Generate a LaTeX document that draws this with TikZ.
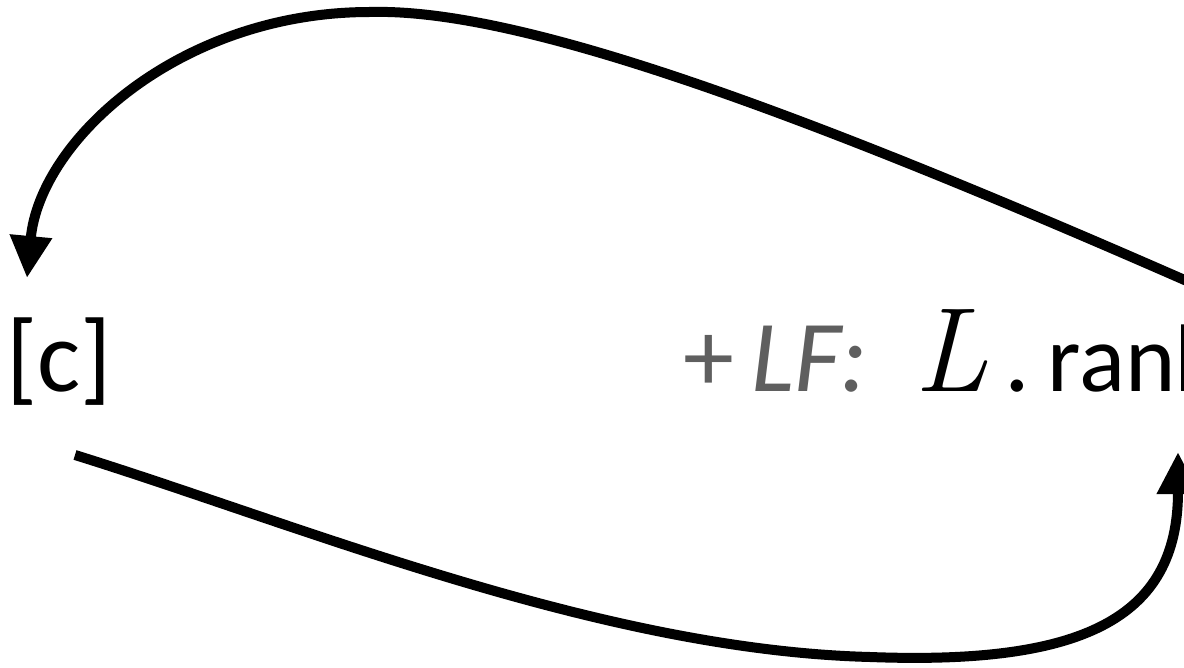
\documentclass[tikz,border=0pt]{standalone}
\usepackage{fontspec}
\setsansfont{Carlito}
\usepackage{tikz}
\usetikzlibrary{arrows.meta,positioning}

\definecolor{lfgray}{HTML}{5F5F5F}

\begin{document}
\begin{tikzpicture}[
		x=0.5pt,y=-0.5pt,
		>={Triangle[length=21pt,width=20pt]},
		every node/.style={font=\sffamily\fontsize{51}{56}\selectfont, inner sep=0pt},
		loop arrow/.style={line width=5pt, ->}
		]
		
		\useasboundingbox (0,0) rectangle (1184,668);
		
		% =========================
		% Labels
		% =========================
		\node[anchor=base west] (cnode) at (6,392) {[c]};
		\node[anchor=base west, text=lfgray] (lfnode) at (683,392) {+\,\textit{LF:}};
		\node[anchor=base west] (rank) at (914,392)
		{{\rmfamily\itshape\fontsize{60}{60}\selectfont L}\,.\,\fontsize{48}{52}\selectfont rank};
		
		% end points of the two loops
		\coordinate (topOut) at (1230,300);
		\coordinate (topPeak) at (370,12);
		\coordinate (cIn) at (27,278);
		\coordinate (cOut) at (75,455);
		\coordinate (botLow) at (870,657);
		\coordinate (rankIn) at (1178,452);
		
		% =========================
		% Loops
		% =========================
		\draw[line width=5pt] (topOut) .. controls (800,110) and (520,8) .. (topPeak);
		\draw[loop arrow] (topPeak) .. controls (180,12) and (40,140) .. (cIn);
		
		\draw[line width=5pt] (cOut) .. controls (300,525) and (600,650) .. (botLow);
		\draw[loop arrow] (botLow) .. controls (1080,665) and (1178,620) .. (rankIn);
	\end{tikzpicture}
\end{document}
